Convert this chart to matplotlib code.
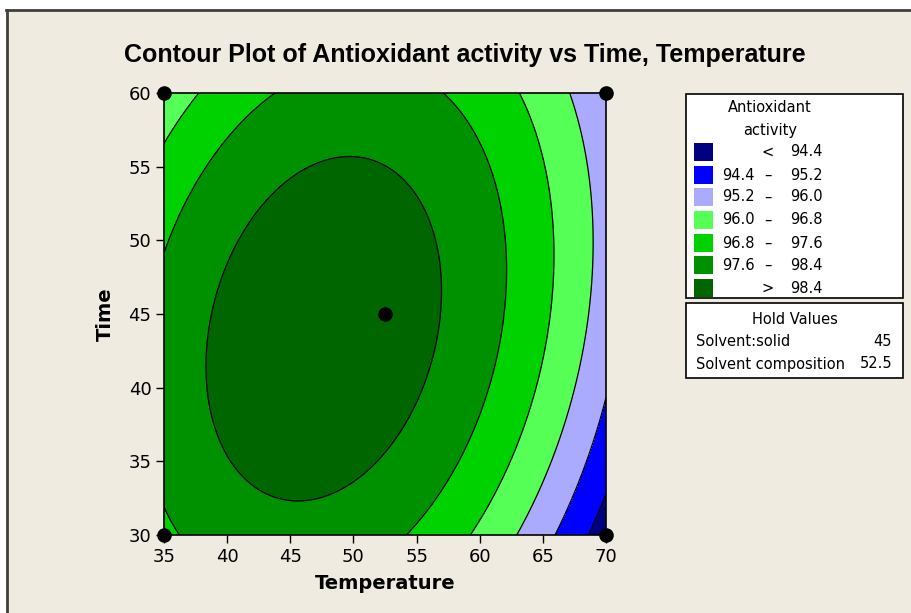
import numpy as np
import matplotlib
matplotlib.use("Agg")
import matplotlib.pyplot as plt
from matplotlib.patches import Rectangle

# ---- data (response-surface) ----
temp_range = [35, 70]
time_range = [30, 60]
x_ticks = [35, 40, 45, 50, 55, 60, 65, 70]
y_ticks = [30, 35, 40, 45, 50, 55, 60]
levels = [94.4, 95.2, 96.0, 96.8, 97.6, 98.4]
legend_labels = [("", "<", "94.4"), ("94.4", "–", "95.2"), ("95.2", "–", "96.0"),
                 ("96.0", "–", "96.8"), ("96.8", "–", "97.6"), ("97.6", "–", "98.4"),
                 ("", ">", "98.4")]
colors = ["#000080", "#0000FF", "#AAAAFF", "#55FF55", "#00D200", "#009100", "#006600"]
# fitted quadratic surface parameters (centred form)
peak_value = 98.967
peak_temp = 47.65
peak_time = 44.0
curv_temp = 0.00685
curv_time = 0.00415
ridge_slope = 0.175
design_temp = [35, 70, 35, 70, 52.5]
design_time = [30, 30, 60, 60, 45]
hold_names = ["Solvent:solid", "Solvent composition"]
hold_values = ["45", "52.5"]

W, H = 912, 613
bg = "#EFEBE1"
fig = plt.figure(figsize=(W / 100, H / 100), dpi=100, facecolor=bg)

# outer frame (white strip and dark line at top/left)
fig.patches.append(Rectangle((0, 1 - 9 / H), 1, 9 / H, transform=fig.transFigure,
                             facecolor="white", edgecolor="none", zorder=-5))
fig.patches.append(Rectangle((0, 0), 6 / W, 1, transform=fig.transFigure,
                             facecolor="white", edgecolor="none", zorder=-5))
fig.add_artist(plt.Line2D([6.5 / W, 1], [1 - 10 / H, 1 - 10 / H], color="#404040", lw=2))
fig.add_artist(plt.Line2D([7 / W, 7 / W], [0, 1 - 10 / H], color="#404040", lw=2))

ax = fig.add_axes([164 / W, 1 - 535 / H, 442 / W, 442 / H])
T = np.linspace(temp_range[0], temp_range[1], 400)
t = np.linspace(time_range[0], time_range[1], 400)
TT, tt = np.meshgrid(T, t)
Tm = peak_temp + ridge_slope * (tt - peak_time)
Z = peak_value - curv_temp * (TT - Tm) ** 2 - curv_time * (tt - peak_time) ** 2

bounds = [Z.min() - 1] + levels + [Z.max() + 1]
ax.contourf(TT, tt, Z, levels=bounds, colors=colors)
ax.contour(TT, tt, Z, levels=levels, colors="black", linewidths=0.9)

ax.set_xlim(temp_range)
ax.set_ylim(time_range)
ax.set_xticks(x_ticks)
ax.set_yticks(y_ticks)
ax.tick_params(direction="out", length=6, width=1, labelsize=13, pad=3, colors="black")
for s in ax.spines.values():
    s.set_linewidth(1.2)
ax.scatter(design_temp, design_time, s=90, color="black", zorder=10, clip_on=False)

ax.set_xlabel("Temperature", fontsize=14, fontweight="bold", labelpad=6)
ax.set_ylabel("Time", fontsize=14, fontweight="bold", labelpad=10)
fig.text(465 / W, 1 - 55 / H, "Contour Plot of Antioxidant activity vs Time, Temperature",
         ha="center", va="center", fontsize=18, fontweight="bold",
         family="Liberation Sans")

# legend box
def px(x, y):
    return x / W, 1 - y / H

fig.patches.append(Rectangle(px(686, 298), 217 / W, 204 / H, transform=fig.transFigure,
                             facecolor="white", edgecolor="black", lw=1.2))
fig.text(*px(770, 108), "Antioxidant", ha="center", va="center", fontsize=10.5)
fig.text(*px(770, 130), "activity", ha="center", va="center", fontsize=10.5)
row_y = [152, 175, 197, 220, 243, 265, 288]
for (lo, sym, hi), c, yy in zip(legend_labels, colors, row_y):
    fig.patches.append(Rectangle(px(694, yy + 9), 19 / W, 18 / H, transform=fig.transFigure,
                                 facecolor=c, edgecolor="none"))
    if lo:
        fig.text(*px(755, yy), lo, ha="right", va="center", fontsize=10.5)
    fig.text(*px(768, yy), sym, ha="center", va="center", fontsize=10.5)
    fig.text(*px(790, yy), hi, ha="left", va="center", fontsize=10.5)

fig.patches.append(Rectangle(px(686, 378), 217 / W, 75 / H, transform=fig.transFigure,
                             facecolor="white", edgecolor="black", lw=1.2))
fig.text(*px(795, 320), "Hold Values", ha="center", va="center", fontsize=10.5)
for name, val, yy in zip(hold_names, hold_values, [342, 364]):
    fig.text(*px(696, yy), name, ha="left", va="center", fontsize=10.5)
    fig.text(*px(892, yy), val, ha="right", va="center", fontsize=10.5)

fig.savefig("out.png", dpi=100, facecolor=bg)
